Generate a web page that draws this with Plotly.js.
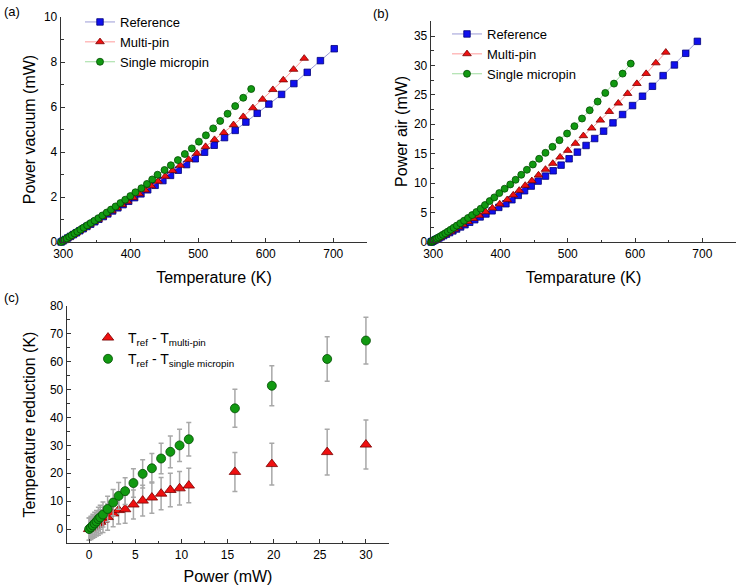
<!DOCTYPE html>
<html>
<head>
<meta charset="utf-8">
<script src="https://cdn.plot.ly/plotly-3.0.1.min.js"></script>
<style>html,body{margin:0;padding:0;background:#fff;}#chart{width:737px;height:588px;}</style>
</head>
<body>
<div id="chart"></div>
<script>
// ---- Panel (a): power in vacuum vs temperature ----
const aRefT = [297, 299.8, 303.1, 306.9, 310.8, 315.2, 319.7, 324.6, 329.6, 335.1, 340.6, 346.7, 352.8, 359.4, 366.1, 373.2, 381.0, 388.7, 397.0, 405.8, 415.2, 425.2, 436.2, 447.7, 459.0, 470.4, 482.7, 495.6, 509.4, 523.7, 539.0, 554.8, 570.6, 587.4, 604.7, 623.5, 641.7, 661.5, 681.0, 701.5];
const aRefP = [0, 0.05, 0.11, 0.18, 0.25, 0.33, 0.41, 0.50, 0.59, 0.69, 0.79, 0.90, 1.01, 1.13, 1.25, 1.38, 1.52, 1.66, 1.81, 1.97, 2.14, 2.32, 2.52, 2.73, 2.96, 3.19, 3.44, 3.70, 3.99, 4.30, 4.64, 4.96, 5.33, 5.72, 6.13, 6.56, 7.04, 7.54, 8.06, 8.59];
const aMultiT = [297, 299.7, 303.0, 306.8, 310.6, 315.0, 319.4, 324.2, 329.0, 334.4, 339.8, 345.8, 351.8, 358.2, 364.7, 372.0, 379.6, 387.2, 395.2, 403.8, 412.5, 421.4, 430.5, 440.5, 451.2, 462.0, 473.3, 485.7, 498.0, 510.9, 524.2, 538.0, 552.3, 566.7, 581.0, 595.3, 610.6, 626.0, 641.2, 657.0];
const aMultiP = [0, 0.05, 0.11, 0.18, 0.25, 0.33, 0.41, 0.50, 0.59, 0.69, 0.79, 0.90, 1.01, 1.13, 1.25, 1.38, 1.52, 1.66, 1.81, 1.97, 2.14, 2.31, 2.49, 2.70, 2.92, 3.17, 3.41, 3.67, 3.94, 4.24, 4.55, 4.86, 5.21, 5.57, 5.96, 6.34, 6.77, 7.20, 7.67, 8.16];
const aMicroT = [297, 299.6, 302.2, 305.3, 309.0, 312.6, 316.8, 321.0, 325.6, 330.3, 335.5, 340.8, 346.5, 352.2, 358.1, 364.5, 370.8, 377.6, 384.8, 391.9, 399.5, 407.0, 415.9, 424.1, 431.9, 439.8, 450.1, 459.5, 469.9, 480.2, 490.6, 501.0, 511.4, 522.2, 532.6, 543.5, 554.8, 566.7, 578.5];
const aMicroP = [0, 0.05, 0.10, 0.16, 0.23, 0.30, 0.38, 0.46, 0.55, 0.64, 0.74, 0.84, 0.95, 1.06, 1.18, 1.31, 1.44, 1.58, 1.73, 1.88, 2.04, 2.21, 2.39, 2.58, 2.78, 2.99, 3.20, 3.41, 3.64, 3.91, 4.16, 4.46, 4.74, 5.05, 5.38, 5.70, 6.04, 6.41, 6.80];

// ---- Panel (b): power in air vs temperature ----
const bRefT = [297, 298.0, 299.4, 301.1, 303.2, 305.7, 308.6, 311.9, 315.6, 319.7, 324.4, 329.3, 334.8, 340.8, 347.3, 354.3, 361.8, 369.8, 378.4, 387.6, 397.5, 408.1, 417.0, 426.4, 435.8, 445.7, 456.0, 466.9, 478.3, 490.1, 502.0, 514.3, 527.2, 540.0, 553.3, 567.2, 581.5, 596.3, 611.1, 625.9, 641.7, 658.5, 675.3, 692.6];
const bRefP = [0, 0.06, 0.14, 0.24, 0.36, 0.51, 0.68, 0.87, 1.09, 1.33, 1.60, 1.89, 2.21, 2.56, 2.94, 3.35, 3.79, 4.26, 4.76, 5.30, 5.88, 6.50, 7.18, 7.92, 8.71, 9.50, 10.35, 11.20, 12.10, 13.06, 14.14, 15.27, 16.40, 17.58, 18.83, 20.24, 21.66, 23.18, 24.77, 26.46, 28.27, 30.08, 32.06, 34.09];
const bMultiT = [297, 298.3, 299.5, 301.3, 303.3, 305.8, 308.8, 312.3, 316.3, 320.7, 325.8, 331.3, 337.4, 344.2, 351.7, 359.7, 368.4, 377.9, 388.0, 398.9, 410.1, 419.0, 427.9, 436.8, 446.7, 456.5, 466.9, 477.8, 488.6, 500.0, 511.4, 523.2, 535.6, 548.4, 561.7, 575.1, 588.9, 602.7, 616.5, 630.9, 645.7];
const bMultiP = [0, 0.08, 0.16, 0.27, 0.40, 0.56, 0.75, 0.97, 1.22, 1.50, 1.82, 2.17, 2.56, 2.99, 3.46, 3.97, 4.52, 5.12, 5.76, 6.45, 7.18, 7.97, 8.76, 9.61, 10.40, 11.37, 12.33, 13.34, 14.42, 15.55, 16.74, 18.04, 19.34, 20.69, 22.16, 23.58, 25.22, 26.91, 28.61, 30.42, 32.23];
const bMicroT = [297, 297.7, 298.7, 300.0, 301.6, 303.4, 305.7, 308.3, 311.3, 314.4, 318.0, 321.8, 325.9, 330.4, 335.2, 340.4, 345.9, 351.8, 357.9, 364.2, 370.6, 377.0, 384.0, 390.9, 398.3, 406.2, 414.6, 422.5, 430.9, 439.3, 448.1, 457.5, 466.9, 477.3, 487.7, 499.0, 509.9, 521.2, 532.6, 544.4, 555.8, 568.7, 581.5, 593.6];
const bMicroP = [0, 0.05, 0.12, 0.21, 0.32, 0.45, 0.61, 0.79, 1.00, 1.23, 1.49, 1.77, 2.08, 2.42, 2.79, 3.19, 3.62, 4.08, 4.57, 5.09, 5.65, 6.28, 6.95, 7.58, 8.31, 9.05, 9.78, 10.57, 11.42, 12.27, 13.17, 14.14, 15.15, 16.17, 17.30, 18.43, 19.68, 20.98, 22.39, 23.86, 25.33, 26.91, 28.61, 30.31];

// ---- Panel (c): temperature reduction vs power ----
const cPower = [0, 0.2, 0.4, 0.6, 0.8, 1.0, 1.2, 1.5, 2.0, 2.6, 3.2, 3.9, 4.8, 5.8, 6.8, 7.8, 8.8, 9.8, 10.8, 15.8, 19.8, 25.8, 30];
const cMultiDT = [0, 0.3, 0.7, 1.1, 1.5, 2.0, 2.6, 3.3, 4.3, 5.6, 6.8, 7.1, 8.8, 10.2, 11.3, 12.7, 14.0, 14.6, 15.6, 20.5, 23.3, 27.6, 30.3];
const cMultiErr = [4, 4, 4, 4, 4, 4.2, 4.3, 4.5, 4.7, 4.8, 5.0, 5.0, 5.2, 5.5, 5.6, 5.8, 6.0, 6.0, 6.2, 7.0, 7.5, 8.2, 8.8];
const cMicroDT = [0, 0.6, 1.3, 2.0, 2.7, 3.6, 4.2, 5.2, 7.2, 9.5, 11.9, 13.6, 16.5, 19.8, 21.8, 25.3, 27.7, 30.0, 32.2, 43.3, 51.4, 61.0, 67.6];
const cMicroErr = [4, 4, 4, 4, 4, 4.2, 4.3, 4.5, 4.6, 4.7, 4.8, 4.8, 5.1, 5.1, 5.3, 5.5, 5.7, 5.8, 6.0, 6.8, 7.2, 8.0, 8.4];

const names = ['Reference', 'Multi-pin', 'Single micropin'];
const cNames = ['T<sub>ref</sub> - T<sub>multi-pin</sub>', 'T<sub>ref</sub> - T<sub>single micropin</sub>'];

const W = 737, H = 588;
const px = (a, b) => [a / W, b / W];
const py = (top, bottom) => [1 - bottom / H, 1 - top / H];

const refMarker = {symbol: 'square', size: 6.5, color: '#1010ee', line: {color: '#00007a', width: 0.8}};
const multiMarker = {symbol: 'triangle-up', size: 7.5, color: '#ee1010', line: {color: '#7a0000', width: 0.8}};
const microMarker = {symbol: 'circle', size: 7, color: '#119911', line: {color: '#034d03', width: 0.8}};
const refLine = {color: '#9b9bd6', width: 1};
const multiLine = {color: '#ff9a9a', width: 1};
const microLine = {color: '#9fdc9f', width: 1};

function lineTrace(x, y, name, marker, line, xa, ya, legend) {
  return {x: x, y: y, name: name, type: 'scatter', mode: 'lines+markers',
          marker: marker, line: line, xaxis: xa, yaxis: ya, legend: legend, cliponaxis: false};
}

const traces = [
  lineTrace(aRefT, aRefP, names[0], refMarker, refLine, 'x', 'y', 'legend'),
  lineTrace(aMultiT, aMultiP, names[1], multiMarker, multiLine, 'x', 'y', 'legend'),
  lineTrace(aMicroT, aMicroP, names[2], microMarker, microLine, 'x', 'y', 'legend'),
  lineTrace(bRefT, bRefP, names[0], refMarker, refLine, 'x2', 'y2', 'legend2'),
  lineTrace(bMultiT, bMultiP, names[1], multiMarker, multiLine, 'x2', 'y2', 'legend2'),
  lineTrace(bMicroT, bMicroP, names[2], microMarker, microLine, 'x2', 'y2', 'legend2'),
  {x: cPower, y: cMultiDT, name: cNames[0], type: 'scatter', mode: 'markers', xaxis: 'x3', yaxis: 'y3', legend: 'legend3',
   marker: {symbol: 'triangle-up', size: 10, color: '#ee1010', line: {color: '#7a0000', width: 0.8}},
   error_y: {type: 'data', array: cMultiErr, visible: true, color: '#a8a8a8', thickness: 1.5, width: 2.5}, cliponaxis: false},
  {x: cPower, y: cMicroDT, name: cNames[1], type: 'scatter', mode: 'markers', xaxis: 'x3', yaxis: 'y3', legend: 'legend3',
   marker: {symbol: 'circle', size: 9, color: '#119911', line: {color: '#034d03', width: 0.8}},
   error_y: {type: 'data', array: cMicroErr, visible: true, color: '#a8a8a8', thickness: 1.5, width: 2.5}, cliponaxis: false}
];

const font = {family: 'Liberation Sans, Arial, sans-serif', color: '#000'};
function axis(extra) {
  return Object.assign({
    showgrid: false, zeroline: false, showline: true, linecolor: '#333', linewidth: 1.3,
    ticks: 'inside', ticklen: 4, tickwidth: 1, tickcolor: '#333',
    tickfont: {family: font.family, size: 12, color: '#000'},
    fixedrange: true
  }, extra);
}
function title(text, standoff) { return {text: text, standoff: standoff, font: {family: font.family, size: 16, color: '#000'}}; }

const layout = {
  width: W, height: H,
  margin: {l: 0, r: 0, t: 0, b: 0},
  paper_bgcolor: '#fff', plot_bgcolor: 'rgba(0,0,0,0)',
  font: font,
  showlegend: true,
  xaxis: axis({domain: px(61, 367), range: [296.8, 750], dtick: 100, tick0: 300, anchor: 'y',
               minor: {ticks: 'inside', ticklen: 2.5, dtick: 50, tickcolor: '#333'},
               title: title('Temperature (K)', 12)}),
  yaxis: axis({domain: py(17, 242), range: [0, 10], dtick: 2, anchor: 'x',
               minor: {ticks: 'inside', ticklen: 2.5, dtick: 1, tickcolor: '#333'},
               title: title('Power vacuum (mW)', 4)}),
  xaxis2: axis({domain: px(431, 736), range: [296.8, 750], dtick: 100, tick0: 300, anchor: 'y2',
               minor: {ticks: 'inside', ticklen: 2.5, dtick: 50, tickcolor: '#333'},
               title: title('Temparature (K)', 12)}),
  yaxis2: axis({domain: py(20.7, 242), range: [0, 37.6], dtick: 5, anchor: 'x2',
               minor: {ticks: 'inside', ticklen: 2.5, dtick: 2.5, tickcolor: '#333'},
               title: title('Power air (mW)', 2)}),
  xaxis3: axis({domain: px(67, 389), range: [-2.4, 32.5], dtick: 5, tick0: 0, anchor: 'y3',
               minor: {ticks: 'inside', ticklen: 2.5, dtick: 2.5, tickcolor: '#333'},
               title: title('Power (mW)', 10)}),
  yaxis3: axis({domain: py(306, 543), range: [-5, 80], dtick: 10, tick0: 0, anchor: 'x3',
               minor: {ticks: 'inside', ticklen: 2.5, dtick: 5, tickcolor: '#333'},
               title: title('Temperature reduction (K)', 10)}),
  legend: {x: 80 / W, y: 1 - 7 / H, xanchor: 'left', yanchor: 'top', bgcolor: 'rgba(0,0,0,0)',
           font: {family: font.family, size: 13, color: '#000'}},
  legend2: {x: 447 / W, y: 1 - 19 / H, xanchor: 'left', yanchor: 'top', bgcolor: 'rgba(0,0,0,0)',
           font: {family: font.family, size: 13, color: '#000'}},
  legend3: {x: 88 / W, y: 1 - 322 / H, xanchor: 'left', yanchor: 'top', bgcolor: 'rgba(0,0,0,0)',
           font: {family: font.family, size: 14, color: '#000'}},
  annotations: [
    {text: '(a)', x: 2 / W, y: 1 - 2 / H, xref: 'paper', yref: 'paper', xanchor: 'left', yanchor: 'top', showarrow: false, font: {family: font.family, size: 13, color: '#000'}},
    {text: '(b)', x: 371 / W, y: 1 - 4 / H, xref: 'paper', yref: 'paper', xanchor: 'left', yanchor: 'top', showarrow: false, font: {family: font.family, size: 13, color: '#000'}},
    {text: '(c)', x: 2 / W, y: 1 - 288 / H, xref: 'paper', yref: 'paper', xanchor: 'left', yanchor: 'top', showarrow: false, font: {family: font.family, size: 13, color: '#000'}}
  ]
};

Plotly.newPlot('chart', traces, layout, {staticPlot: true, displayModeBar: false});
</script>
</body>
</html>
